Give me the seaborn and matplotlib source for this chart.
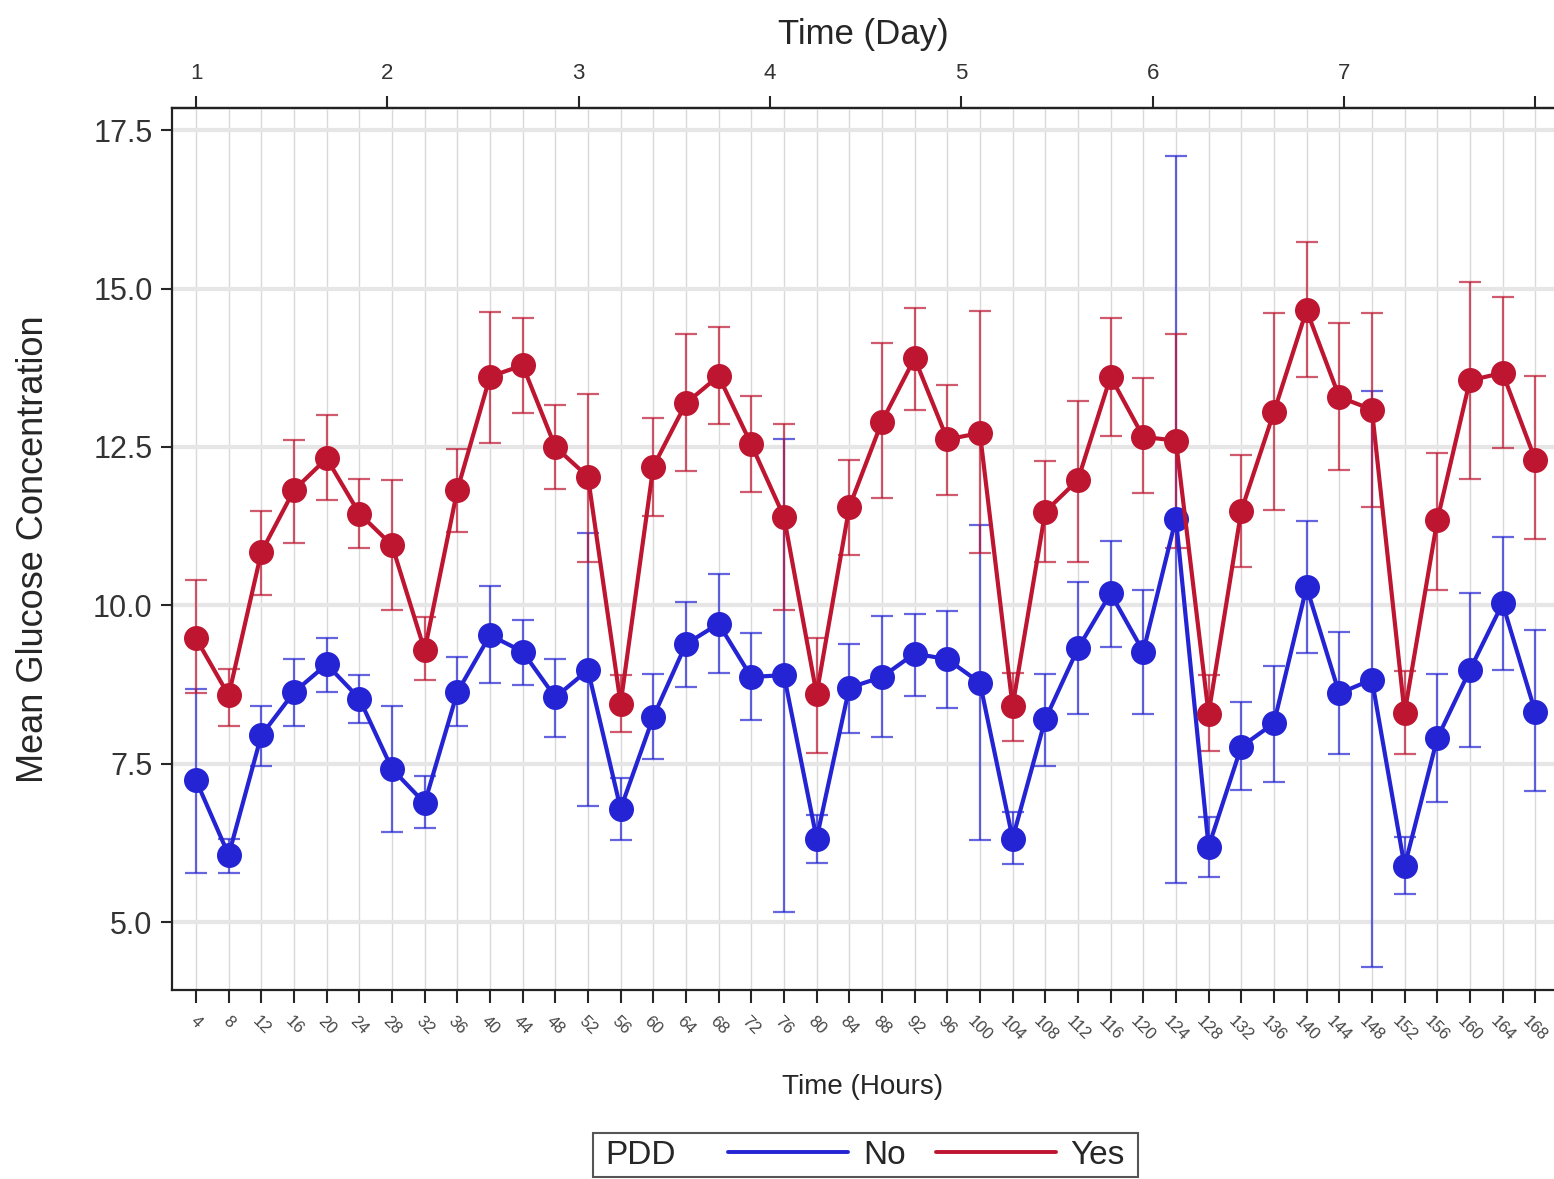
import numpy as np
import pandas as pd
import seaborn as sns
import matplotlib.pyplot as plt
from matplotlib.lines import Line2D
from matplotlib.patches import Rectangle

# Time points (hours) and group means / error bar limits
hours = list(range(4, 172, 4))

yes_mean = [9.48, 8.58, 10.84, 11.82, 12.32, 11.45, 10.95, 9.29, 11.82, 13.61,
            13.79, 12.50, 12.03, 8.45, 12.19, 13.19, 13.62, 12.54, 11.40, 8.60,
            11.55, 12.90, 13.90, 12.62, 12.72, 8.41, 11.48, 11.98, 13.61, 12.66,
            12.60, 8.29, 11.49, 13.05, 14.66, 13.29, 13.09, 8.30, 11.34, 13.55,
            13.67, 12.30]
yes_upper = [10.40, 8.99, 11.49, 12.61, 13.00, 12.00, 11.98, 9.82, 12.47, 14.63,
             14.53, 13.16, 13.34, 8.90, 12.95, 14.28, 14.39, 13.31, 12.86, 9.48,
             12.30, 14.14, 14.70, 13.48, 14.64, 8.93, 12.28, 13.23, 14.53, 13.59,
             14.29, 8.90, 12.37, 14.62, 15.74, 14.45, 14.62, 8.97, 12.41, 15.11,
             14.87, 13.62]
yes_lower = [8.62, 8.10, 10.16, 10.98, 11.66, 10.90, 9.92, 8.82, 11.16, 12.56,
             13.04, 11.83, 10.69, 8.00, 11.41, 12.12, 12.87, 11.79, 9.92, 7.67,
             10.79, 11.69, 13.08, 11.75, 10.82, 7.86, 10.69, 10.69, 12.68, 11.77,
             10.90, 7.70, 10.61, 11.50, 13.61, 12.13, 11.55, 7.65, 10.25, 11.99,
             12.48, 11.04]

no_mean = [7.24, 6.06, 7.95, 8.63, 9.07, 8.53, 7.42, 6.88, 8.63, 9.53,
           9.27, 8.55, 8.98, 6.79, 8.24, 9.39, 9.71, 8.87, 8.90, 6.32,
           8.70, 8.87, 9.24, 9.15, 8.78, 6.32, 8.20, 9.32, 10.19, 9.27,
           11.37, 6.19, 7.77, 8.14, 10.29, 8.61, 8.83, 5.88, 7.90, 8.98,
           10.03, 8.32]
no_upper = [8.68, 6.32, 8.42, 9.15, 9.49, 8.90, 8.42, 7.30, 9.19, 10.30,
            9.77, 9.15, 11.14, 7.27, 8.91, 10.06, 10.49, 9.56, 12.62, 6.69,
            9.39, 9.83, 9.87, 9.91, 11.27, 6.74, 8.91, 10.37, 11.02, 10.25,
            17.09, 6.66, 8.48, 9.05, 11.33, 9.58, 13.39, 6.35, 8.91, 10.20,
            11.08, 9.61]
no_lower = [5.78, 5.78, 7.47, 8.10, 8.63, 8.14, 6.42, 6.48, 8.10, 8.77,
            8.74, 7.92, 6.84, 6.29, 7.58, 8.71, 8.93, 8.19, 5.16, 5.93,
            7.99, 7.92, 8.57, 8.38, 6.29, 5.92, 7.47, 8.28, 9.35, 8.28,
            5.62, 5.72, 7.08, 7.22, 9.25, 7.65, 4.29, 5.44, 6.90, 7.77,
            8.98, 7.07]

y_ticks = [5.0, 7.5, 10.0, 12.5, 15.0, 17.5]
day_ticks = [1, 2, 3, 4, 5, 6, 7, 8]
day_labels = ['1', '2', '3', '4', '5', '6', '7', '']

W, H = 1554, 1179
colors = {'No': '#2424D4', 'Yes': '#BE1530'}

sns.set_style('white')
plt.rcParams['font.family'] = ['Liberation Sans', 'DejaVu Sans']

df = pd.DataFrame({
    'hour': hours * 2,
    'glucose': no_mean + yes_mean,
    'PDD': ['No'] * len(hours) + ['Yes'] * len(hours),
})
limits = {'No': (no_lower, no_upper), 'Yes': (yes_lower, yes_upper)}

fig = plt.figure(figsize=(W / 100, H / 100), dpi=100)
ax = fig.add_axes([172 / W, 1 - 990 / H, (W - 172) / W, (990 - 108) / H])

# error bars under the lines
for grp in ['No', 'Yes']:
    sub = df[df['PDD'] == grp]
    lo, hi = limits[grp]
    m = sub['glucose'].to_numpy()
    ax.errorbar(sub['hour'], m, yerr=[m - np.array(lo), np.array(hi) - m],
                fmt='none', ecolor=colors[grp], alpha=0.7, elinewidth=1.6,
                capsize=8, capthick=1.6, zorder=2)

sns.lineplot(data=df, x='hour', y='glucose', hue='PDD', hue_order=['No', 'Yes'],
             palette=colors, marker='o', markersize=18, markeredgewidth=0,
             linewidth=3.0, errorbar=None, legend=False, ax=ax, zorder=3)

ax.set_xlim(1.06, 170.3)
ax.set_ylim(3.93, 17.85)

ax.set_xticks(hours)
ax.set_xticklabels([str(h) for h in hours], rotation=-45, ha='center',
                   fontsize=12, color='#444444')
ax.set_yticks(y_ticks)
ax.set_yticklabels([f'{v:.1f}' for v in y_ticks], fontsize=22, color='#333333')
ax.tick_params(axis='x', direction='out', length=9, width=1.5, pad=8, bottom=True)
ax.tick_params(axis='y', direction='out', length=8, width=1.5, pad=6, left=True)

ax.grid(axis='x', color='#D9D9D9', linewidth=1.0)
ax.grid(axis='y', color='#E6E6E6', linewidth=3.0)
ax.set_axisbelow(True)

for side in ['left', 'bottom', 'top']:
    ax.spines[side].set_color('#222222')
    ax.spines[side].set_linewidth(1.6)
ax.spines['right'].set_visible(False)

ax.set_xlabel('Time (Hours)', fontsize=20, labelpad=22)
ax.set_ylabel('Mean Glucose Concentration', fontsize=26, labelpad=30)

# day axis on top
sec = ax.secondary_xaxis('top', functions=(lambda h: 1 + (h - 4) * 7 / 164,
                                           lambda d: 4 + (d - 1) * 164 / 7))
sec.set_xticks(day_ticks)
sec.set_xticklabels(day_labels, fontsize=16, color='#333333')
sec.tick_params(direction='out', length=9, width=1.5, pad=8)
sec.spines['top'].set_linewidth(1.6)
sec.spines['top'].set_color('#222222')
sec.set_xlabel('Time (Day)', fontsize=25, labelpad=14)

# legend with the group title on the left
fig.patches.append(Rectangle((593 / W, 1 - 1177 / H), (1138 - 593) / W, 44 / H,
                             transform=fig.transFigure, fill=False,
                             edgecolor='#555555', linewidth=1.5))
fig.text(605 / W, 1 - 1155 / H, 'PDD', fontsize=24, ha='left', va='center')
handles = [Line2D([], [], color=colors['No'], lw=2.8),
           Line2D([], [], color=colors['Yes'], lw=2.8)]
fig.legend(handles=handles, labels=['No', 'Yes'], ncol=2, frameon=False,
           loc='center left', bbox_to_anchor=(728 / W, 1 - 1155 / H),
           borderpad=0, borderaxespad=0, handlelength=3.6, handletextpad=0.45,
           columnspacing=0.9, fontsize=24)

fig.savefig('out.png', dpi=100)
